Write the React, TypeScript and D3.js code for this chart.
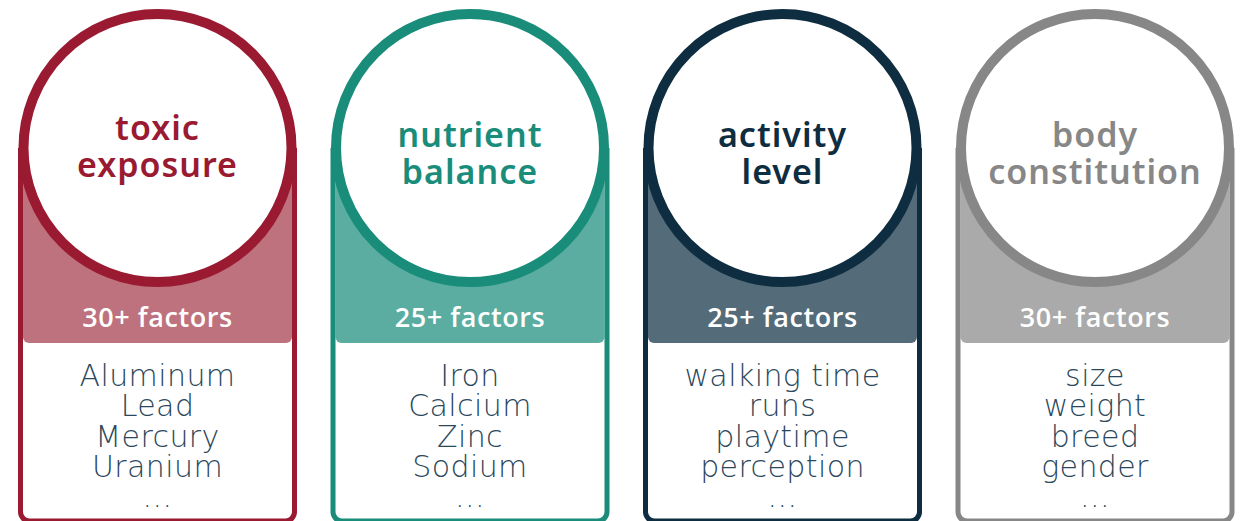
import React from "react";
import * as d3 from "d3";

// card data
const categories = ["toxic", "nutrient", "activity", "body"];
const titles = [
  ["toxic", "exposure"],
  ["nutrient", "balance"],
  ["activity", "level"],
  ["body", "constitution"],
];
const factorLabels = ["30+ factors", "25+ factors", "25+ factors", "30+ factors"];
const factorLists = [
  ["Aluminum", "Lead", "Mercury", "Uranium", "..."],
  ["Iron", "Calcium", "Zinc", "Sodium", "..."],
  ["walking time", "runs", "playtime", "perception", "..."],
  ["size", "weight", "breed", "gender", "..."],
];
const ringColors = ["#991a31", "#1a8c7a", "#0f2d40", "#878787"];
const bandColors = ["#bd727e", "#5aada0", "#546b79", "#aaaaaa"];
const titleShift = [-7, 0, 0, 0];

const W = 1242;
const H = 521;

export default function App() {
  const x = d3.scaleBand<string>()
    .domain(categories)
    .range([18, 1234.5])
    .paddingInner(0.1072)
    .paddingOuter(0);
  const bw = x.bandwidth();
  const cy = 148;
  const ringR = 134;
  const bandBottom = 343;
  const cardBottom = 521;
  const lineY = d3.scaleLinear().domain([0, 4]).range([386, 507]);

  function cardPath(x0: number) {
    const lx = x0 + 2.5, rx = x0 + bw - 2.5, r = 9;
    const p = d3.path();
    p.moveTo(lx, cy);
    p.lineTo(lx, cardBottom - r);
    p.arcTo(lx, cardBottom, lx + r, cardBottom, r);
    p.lineTo(rx - r, cardBottom);
    p.arcTo(rx, cardBottom, rx, cardBottom - r, r);
    p.lineTo(rx, cy);
    return p.toString();
  }

  function bandPath(x0: number) {
    const lx = x0 + 5, rx = x0 + bw - 5, r = 6;
    const p = d3.path();
    p.moveTo(lx, cy);
    p.lineTo(lx, bandBottom - r);
    p.arcTo(lx, bandBottom, lx + r, bandBottom, r);
    p.lineTo(rx - r, bandBottom);
    p.arcTo(rx, bandBottom, rx, bandBottom - r, r);
    p.lineTo(rx, cy);
    p.closePath();
    return p.toString();
  }

  return (
    <svg width={W} height={H} style={{ position: "absolute", left: 0, top: 0, background: "#fff" }}>
      {categories.map((c, i) => {
        const x0 = x(c) as number;
        const cx = x0 + bw / 2;
        return (
          <g key={c}>
            <path d={bandPath(x0)} fill={bandColors[i]} />
            <path d={cardPath(x0)} fill="none" stroke={ringColors[i]} strokeWidth={5} />
            <circle cx={cx} cy={cy} r={ringR} fill="#fff" stroke={ringColors[i]} strokeWidth={10} />
            <text textAnchor="middle" fill={ringColors[i]} fontFamily="'Noto Sans', sans-serif"
              fontWeight={600} fontSize={34} letterSpacing={1}>
              {titles[i].map((t, j) => (
                <tspan key={t} x={cx} y={147 + j * 36.5 + titleShift[i]}>{t}</tspan>
              ))}
            </text>
            <text x={cx} y={327} textAnchor="middle" fill="#fff" letterSpacing={0.6}
              fontFamily="'Open Sans', sans-serif" fontWeight={600} fontSize={27}>{factorLabels[i]}</text>
            <text textAnchor="middle" fill="#2b475b" fontFamily="'DejaVu Sans', sans-serif"
              fontWeight={200} fontSize={30} letterSpacing={0.4}>
              {factorLists[i].map((t, j) => (
                <tspan key={j} x={cx} y={lineY(j)}>{t}</tspan>
              ))}
            </text>
          </g>
        );
      })}
    </svg>
  );
}
